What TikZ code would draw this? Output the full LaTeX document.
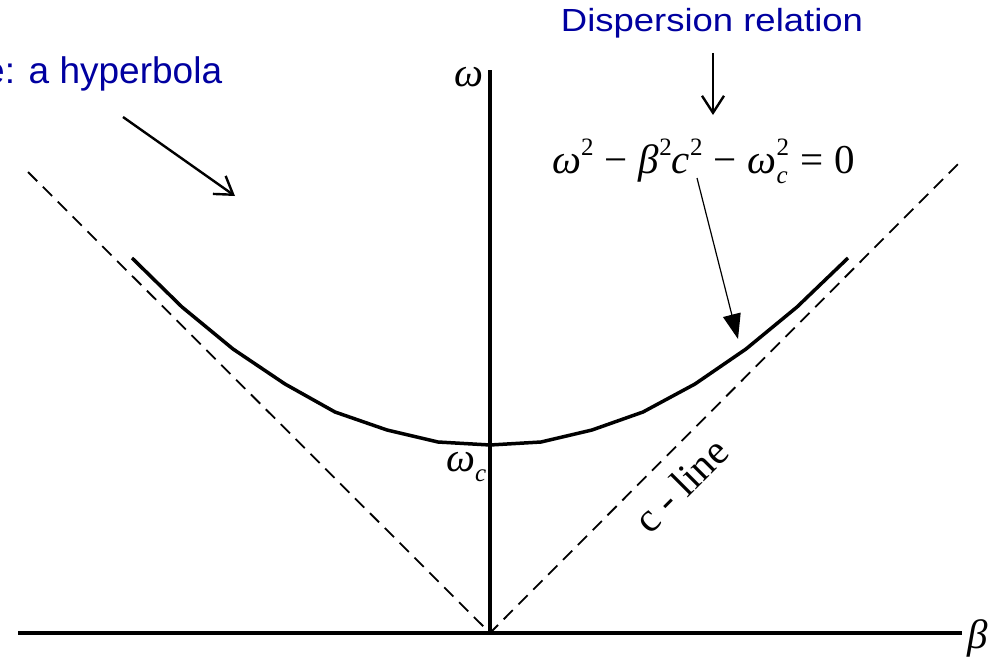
\documentclass[tikz,border=0pt]{standalone}
\usepackage{fontspec}
\setmainfont{Liberation Serif}
\newfontfamily\arialfont{Liberation Sans}
\usetikzlibrary{arrows.meta}
\definecolor{lblue}{RGB}{0,0,160}
\newcommand{\mysup}[1]{\raisebox{0.42em}{\fontsize{25}{25}\selectfont #1}}
\newcommand{\mysub}[1]{\raisebox{-0.25em}{\fontsize{25}{25}\selectfont #1}}
\newcommand{\opsp}{\hspace{0.27em}}
\tikzset{
  axis/.style={line width=3.5pt},
  curve/.style={line width=3.5pt, line join=round},
  asym/.style={line width=1.8pt, dash pattern=on 13pt off 8pt},
  bluetxt/.style={text=lblue, font=\arialfont\fontsize{37}{37}\selectfont, inner sep=0pt},
  mathtxt/.style={font=\fontsize{41}{41}\selectfont, inner sep=0pt},
  openarrow/.style={line width=2.4pt, -{Straight Barb[length=17pt,width=22pt,line width=2.4pt]}},
  thinarrow/.style={line width=1.2pt, -{Triangle[length=25pt,width=18pt]}},
}
\begin{document}
\begin{tikzpicture}[x=1pt,y=-1pt]
\useasboundingbox (0,0) rectangle (1004,661);
% axes
\coordinate (O) at (490,633);
\coordinate (Ytop) at (490,70);
\coordinate (Xl) at (18,633);
\coordinate (Xr) at (962,633);
\draw[axis] (Xl) -- (Xr);
\draw[axis] (O) -- (Ytop);
% asymptotes
\coordinate (Al) at (28,172);
\coordinate (Ar) at (963,159);
\draw[asym] (Al) -- (O) -- (Ar);
% hyperbola
\draw[curve] (132,258) -- (182,307) -- (233,349) -- (285,384) -- (335,412) -- (387,430) -- (438,442) -- (490,445) -- (541,442) -- (592,430) -- (643,412) -- (695,384) -- (746,349) -- (797,307) -- (848,258);
% labels
\node[mathtxt, anchor=base west] (w) at (454,86) {\textit{ω}};
\node[mathtxt, anchor=base west] (b) at (967,648) {\textit{β}};
\node[mathtxt, anchor=base west] (wc) at (446,471) {\textit{ω}\mysub{\textit{c}}};
\node[mathtxt, rotate=45] (cl) at (681,485) {c - line};
\node[mathtxt, anchor=base west] (eq) at (552,173) {\textit{ω}\mysup{2}\opsp−\opsp\textit{β}\mysup{2}\textit{c}\mysup{2}\opsp−\opsp\textit{ω}\rlap{\mysub{\textit{c}}}\mysup{2}\opsp=\opsp0};
\node[bluetxt, anchor=base] (disp) at (712,32) {\scalebox{1.14}[1]{\fontsize{32}{32}\selectfont Dispersion relation}};
\node[bluetxt, anchor=base west] (hyp) at (-16,83) {e: a hyperbola};
% arrows
\coordinate (h1) at (123,117);
\coordinate (h2) at (235,196);
\draw[openarrow] (h1) -- (h2);
\coordinate (d1) at (713,53);
\coordinate (d2) at (713,115);
\draw[openarrow] (d1) -- (d2);
\coordinate (e1) at (697,178);
\coordinate (e2) at (738,339);
\draw[thinarrow] (e1) -- (e2);
\end{tikzpicture}
\end{document}
